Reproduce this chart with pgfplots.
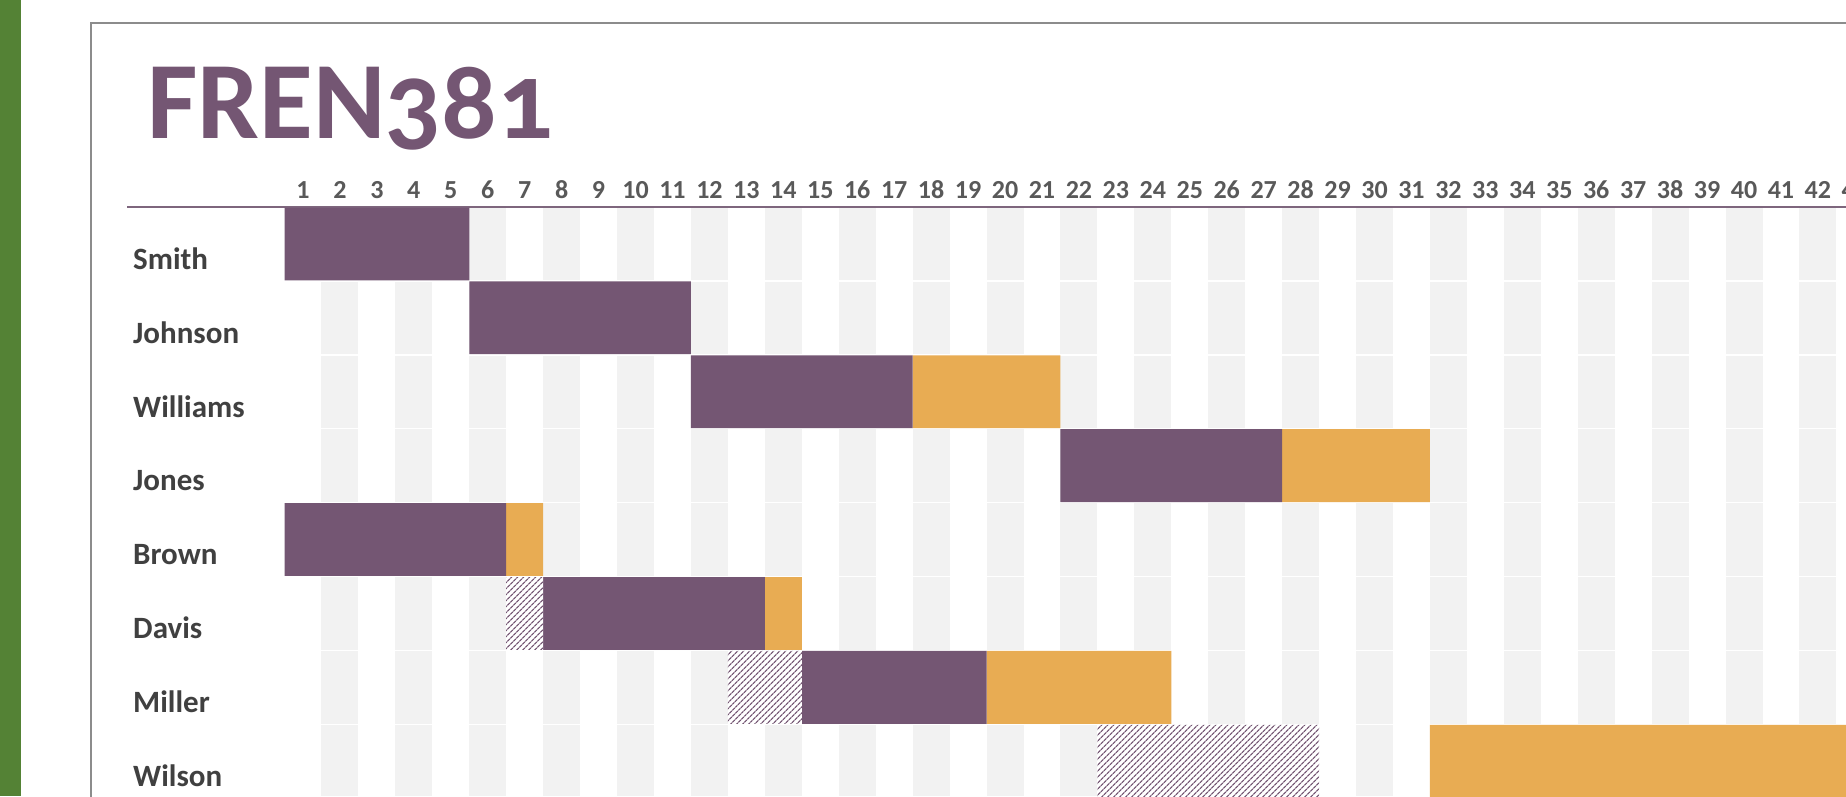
\documentclass[border=0pt]{standalone}
\usepackage{fontspec}
\setmainfont{Carlito}
\newfontfamily\titlefont[Numbers=OldStyle]{Carlito}
\usepackage{pgfplots}
\usepackage{pgfplotstable}
\pgfplotsset{compat=1.18}
\usetikzlibrary{patterns.meta}
\definecolor{plum}{HTML}{745673}
\definecolor{gold}{HTML}{E8AC53}
\definecolor{band}{HTML}{F2F2F2}
\definecolor{xlgreen}{HTML}{548235}
\definecolor{ticktxt}{HTML}{595959}
\definecolor{nametxt}{HTML}{404040}
\definecolor{rulec}{HTML}{7E667D}
\definecolor{framec}{HTML}{8C8C8C}

% row centre, then segment lengths in days (columns), stacked from day 0
\pgfplotstableread{
row offset hatch purple gap gold
0.5 0 0 5 0 0
1.5 5 0 6 0 0
2.5 11 0 6 0 4
3.5 21 0 6 0 4
4.5 0 0 6 0 1
5.5 6 1 6 0 1
6.5 12 2 5 0 5
7.5 22 6 0 3 14
}\gantt

\pgfplotsset{canvas/.style={at={(0,0)}, anchor=south west, scale only axis,
  width=1846pt, height=796pt,
  xmin=-7.70, xmax=42.26, ymin=-2.80, ymax=7.97, y dir=reverse,
  hide axis, clip=true}}

\begin{document}
\begin{tikzpicture}[x=1pt,y=1pt]
\useasboundingbox (0,0) rectangle (1846,796);
\fill[white] (0,0) rectangle (1846,796);
\fill[xlgreen] (0,0) rectangle (21,796);
% background grid of day columns
\begin{axis}[canvas]
\pgfplotsinvokeforeach{1,...,21}{
  \fill[band] (axis cs:{2*#1-1},0) rectangle (axis cs:{2*#1},7.97);
}
\pgfplotsinvokeforeach{1,...,7}{
  \draw[white, line width=1.5pt] (axis cs:-1,#1) -- (axis cs:43,#1);
}
\end{axis}
% gantt bars
\begin{axis}[canvas, xbar stacked, bar width=0.985]
\addplot[draw=none, fill=none] table[x=offset, y=row] {\gantt};
\addplot[draw=none, fill=white, postaction={pattern={Lines[angle=45,distance=4pt,line width=1.3pt]}, pattern color=plum}] table[x=hatch, y=row] {\gantt};
\addplot[draw=none, fill=plum] table[x=purple, y=row] {\gantt};
\addplot[draw=none, fill=none] table[x=gap, y=row] {\gantt};
\addplot[draw=none, fill=gold] table[x=gold, y=row] {\gantt};
\draw[rulec, line width=2pt] (axis cs:-4.26,0) -- (axis cs:43,0);
\pgfplotsinvokeforeach{1,...,43}{
  \node[anchor=base, inner sep=0, text=ticktxt, font=\fontsize{26}{28}\selectfont\bfseries] at (axis cs:{#1-0.5},-0.11) {#1};
}
\foreach \nm [count=\r] in {Smith,Johnson,Williams,Jones,Brown,Davis,Miller,Wilson}{
  \edef\tmp{\noexpand\node[anchor=base west, inner sep=0, text=nametxt, font=\noexpand\fontsize{31}{33}\noexpand\selectfont\noexpand\bfseries] at (axis cs:-4.10,{\r-0.157}) {\nm};}
  \tmp
}
\end{axis}
\draw[framec, line width=1.5pt] (91,-10) |- (1900,773);
\node[anchor=base west, inner sep=0, text=plum, font=\fontsize{110}{116}\selectfont\titlefont\bfseries] at (147,657) {FREN381};
\end{tikzpicture}
\end{document}
